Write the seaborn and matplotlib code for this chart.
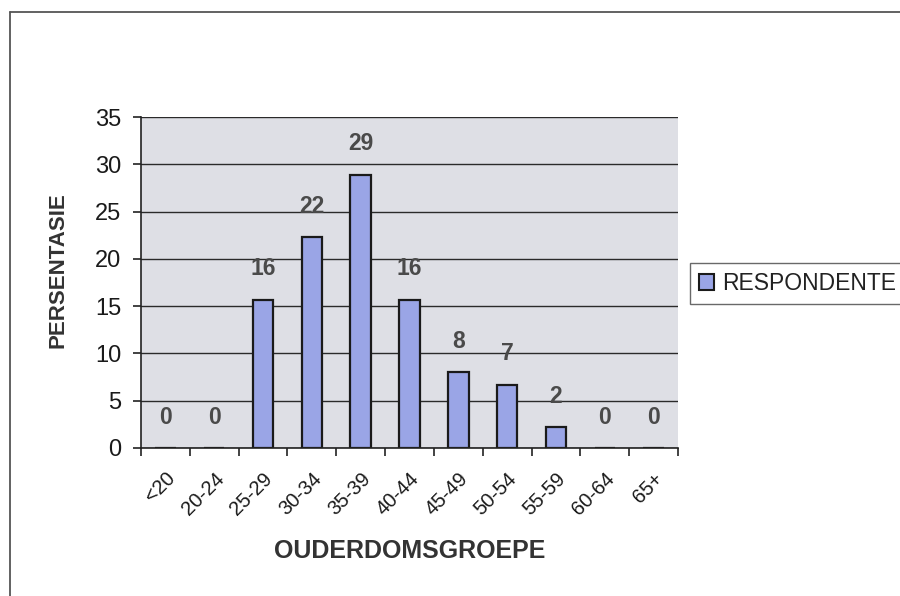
import matplotlib
matplotlib.use("Agg")
import matplotlib.pyplot as plt
import seaborn as sns
import pandas as pd
from matplotlib.patches import Patch
from matplotlib.lines import Line2D

# age groups and share of respondents (%)
groups = ["<20", "20-24", "25-29", "30-34", "35-39", "40-44",
          "45-49", "50-54", "55-59", "60-64", "65+"]
persentasie = [0, 0, 15.7, 22.3, 28.9, 15.7, 8.0, 6.7, 2.2, 0, 0]
series_name = "RESPONDENTE"

df = pd.DataFrame({"groep": groups, "pct": persentasie})

sns.set_style("white")
plt.rcParams["font.family"] = ["Liberation Sans", "DejaVu Sans"]

fig = plt.figure(figsize=(9, 5.96), dpi=100)
ax = fig.add_axes([141 / 900, 1 - 448 / 596, (678 - 141) / 900, (448 - 117) / 596])

bar_col = "#9aa5e6"
sns.barplot(data=df, x="groep", y="pct", color=bar_col, width=0.42,
            edgecolor="#1a1a1a", linewidth=1.6, saturation=1, ax=ax)

ax.set_facecolor("#dedfe5")
ax.set_ylim(0, 35)
ax.set_xlim(-0.5, len(groups) - 0.5)
ax.set_yticks(range(0, 36, 5))
ax.yaxis.grid(True, color="#2a2a2a", linewidth=1.0)
ax.set_axisbelow(True)

for s in ["top", "right"]:
    ax.spines[s].set_visible(False)
for s in ["left", "bottom"]:
    ax.spines[s].set_color("#222222")
    ax.spines[s].set_linewidth(1.2)

# labels centred, ticks on the category boundaries
ax.set_xticks(range(len(groups)))
ax.set_xticklabels(groups, rotation=45, ha="right", rotation_mode="anchor",
                   fontsize=14.5, color="#1a1a1a")
ax.set_xticks([i - 0.5 for i in range(len(groups) + 1)], minor=True)
ax.tick_params(axis="x", which="major", length=0, pad=15)
ax.tick_params(axis="x", which="minor", length=6, width=1.2, color="#222222",
               direction="out", bottom=True)
ax.tick_params(axis="y", length=6, width=1.2, color="#222222", direction="out",
               left=True, labelsize=17, labelcolor="#1a1a1a", pad=8)

ax.set_xlabel("OUDERDOMSGROEPE", fontsize=18, fontweight="bold", color="#333333")
ax.set_ylabel("PERSENTASIE", fontsize=16, fontweight="bold", color="#333333")
ax.xaxis.set_label_coords(0.5, -0.275)
ax.yaxis.set_label_coords(-0.135, 0.538)

ax.bar_label(ax.containers[0], labels=[f"{v:.0f}" for v in persentasie],
             padding=14, fontsize=16.5, fontweight="bold", color="#4a4a4a")

fig.legend(handles=[Patch(facecolor=bar_col, edgecolor="#1a1a1a", linewidth=1.5,
                          label=series_name)],
           loc="upper left", bbox_to_anchor=(690 / 900, 1 - 263 / 596),
           borderaxespad=0, fontsize=16.5, frameon=True, fancybox=False,
           edgecolor="#444444", handlelength=0.65, handleheight=0.65,
           handletextpad=0.35, borderpad=0.4, labelcolor="#222222")

# outer chart border (only left and top are inside the picture)
fig.add_artist(Line2D([10 / 900, 10 / 900], [0, 1 - 12 / 596],
                      transform=fig.transFigure, color="#555555", linewidth=1.3))
fig.add_artist(Line2D([10 / 900, 1], [1 - 12 / 596, 1 - 12 / 596],
                      transform=fig.transFigure, color="#555555", linewidth=1.3))

fig.savefig("out.png", dpi=100)
